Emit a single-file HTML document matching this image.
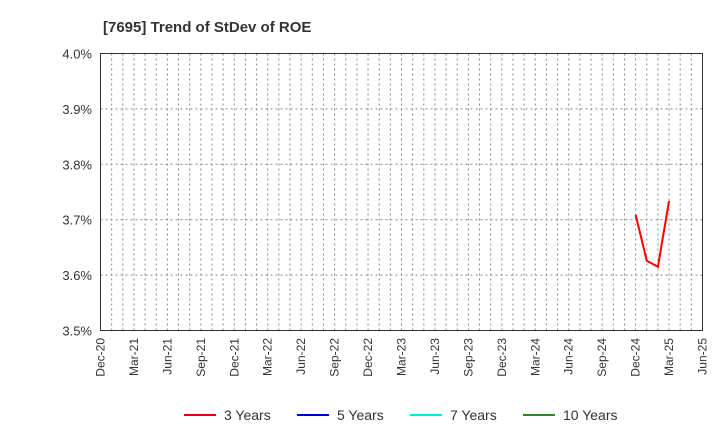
<!DOCTYPE html>
<html><head><meta charset="utf-8"><style>
body{margin:0;background:#fff;font-family:"Liberation Sans",Arial,sans-serif}
</style></head><body>
<svg id="chart" width="720" height="440" xmlns="http://www.w3.org/2000/svg">
<text x="103" y="32" font-size="15" font-weight="bold" fill="#333">[7695]  Trend of StDev of ROE</text>
<g id="grid"></g>
<g id="yaxis"></g>
<g id="xaxis"></g>
<rect x="100.5" y="53.5" width="602" height="277" fill="none" stroke="#333"/>
<g id="series"></g>
<g id="legend"></g>
</svg>
<script>
const yTicks=[3.5,3.6,3.7,3.8,3.9,4.0];
const xLabels=["Dec-20","Mar-21","Jun-21","Sep-21","Dec-21","Mar-22","Jun-22","Sep-22","Dec-22","Mar-23","Jun-23","Sep-23","Dec-23","Mar-24","Jun-24","Sep-24","Dec-24","Mar-25","Jun-25"];
const s3Months=[48,49,50,51];
const s3Values=[3.709,3.626,3.615,3.734];
const NS="http://www.w3.org/2000/svg";
const X0=100.5,X1=702.5,Y0=330.5,Y1=53.5,NM=54;
const xs=m=>X0+(X1-X0)*m/NM;
const ys=v=>Y0-(v-3.5)/(0.5)*(Y0-Y1);
function mk(t,a,p){const e=document.createElementNS(NS,t);for(const k in a)e.setAttribute(k,a[k]);p.appendChild(e);return e;}
const grid=document.getElementById('grid'),ya=document.getElementById('yaxis'),xa=document.getElementById('xaxis');
for(let m=1;m<NM;m++){const l=mk('line',{x1:xs(m),x2:xs(m),y1:Y1,y2:Y0,stroke:'#888','stroke-dasharray':'2,3','stroke-width':1},grid);

}
yTicks.forEach(v=>{const y=ys(v);
if(v>3.5&&v<4){const l=mk('line',{x1:X0,x2:X1,y1:y,y2:y,stroke:'#888','stroke-dasharray':'2,3'},grid);

}
const t=mk('text',{x:92,y:y+5,'text-anchor':'end','font-size':13,fill:'#333'},ya);t.textContent=v.toFixed(1)+'%';

});
xLabels.forEach((s,i)=>{const x=xs(i*3);const t=mk('text',{x:x+4,y:338,'text-anchor':'end','font-size':12,fill:'#333',transform:`rotate(-90 ${x+4} 338)`},xa);t.textContent=s;

});
const pts=s3Months.map((m,i)=>xs(m)+','+ys(s3Values[i])).join(' ');
const pl=mk('polyline',{points:pts,fill:'none',stroke:'#ff0000','stroke-width':2},document.getElementById('series'));


const leg=[["3 Years","#e00000",184],["5 Years","#0000cc",297],["7 Years","#00e5ee",410],["10 Years","#228b22",523]];
const lg=document.getElementById('legend');
leg.forEach(([n,c,x])=>{const g=mk('g',{},lg);


mk('line',{x1:x,x2:x+32,y1:415,y2:415,stroke:c,'stroke-width':2},g);
const t=mk('text',{x:x+40,y:420,'font-size':14,fill:'#333'},g);t.textContent=n;});
</script>
</body></html>
